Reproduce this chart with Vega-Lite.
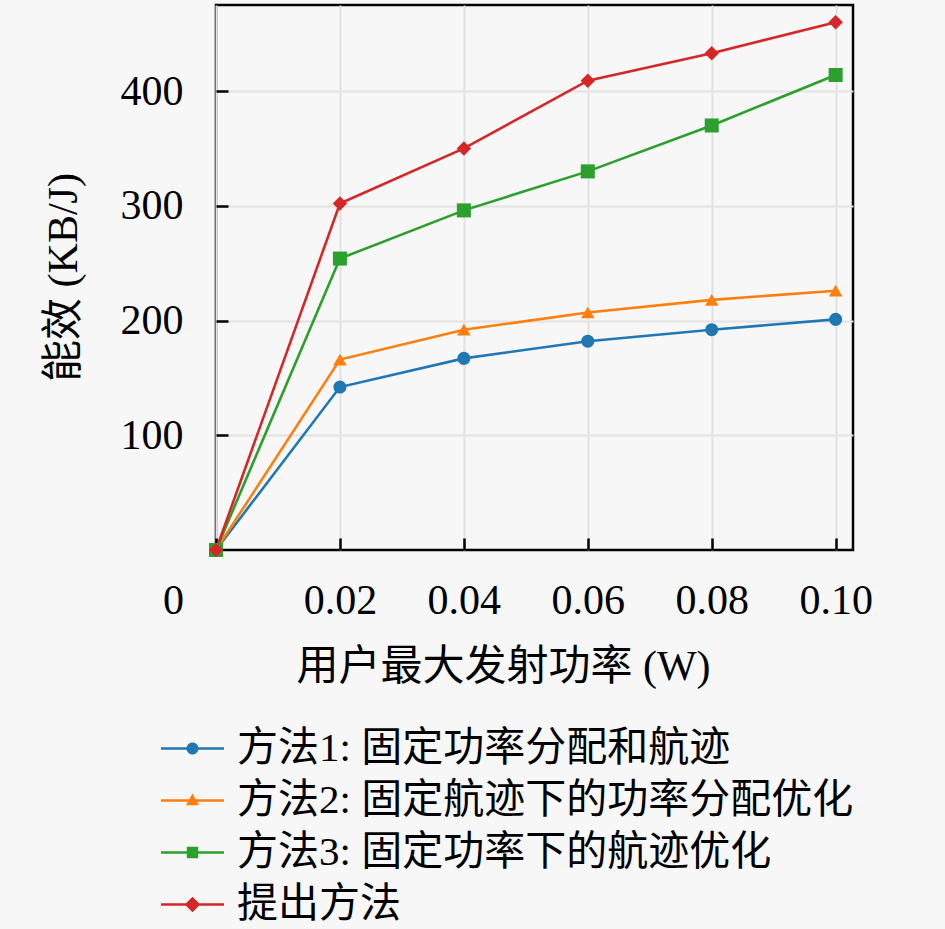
{
  "$schema": "https://vega.github.io/schema/vega-lite/v6.json",
  "autosize": "none",
  "width": 637,
  "height": 545,
  "padding": {"left": 216, "top": 5, "right": 92, "bottom": 379},
  "background": "#f7f7f7",
  "config": {
    "font": "Liberation Serif, Noto Sans CJK SC",
    "view": {"stroke": "#000000", "strokeWidth": 2.5, "fill": "#f7f7f7"},
    "axis": {
      "domain": false,
      "grid": false,
      "tickColor": "#000000",
      "tickWidth": 2.5,
      "tickSize": 12,
      "gridColor": "#e2e2e2",
      "gridWidth": 2,
      "labelFont": "Liberation Serif, Noto Sans CJK SC",
      "labelFontSize": 42,
      "labelColor": "#000000",
      "labelFlush": false,
      "labelOverlap": false,
      "labelBound": false,
      "titleFont": "Liberation Serif, Noto Sans CJK SC",
      "titleFontSize": 42,
      "titleFontWeight": "normal",
      "titleColor": "#000000"
    },
    "legend": {
      "orient": "none",
      "legendX": -44,
      "legendY": 723,
      "padding": 0,
      "title": null,
      "symbolSize": 144,
      "symbolStrokeWidth": 0,
      "symbolOpacity": 1,
      "labelFont": "Liberation Serif, Noto Sans CJK SC",
      "labelFontSize": 41,
      "labelColor": "#000000",
      "labelLimit": 1000,
      "labelOffset": 24,
      "rowPadding": 10
    }
  },
  "data": {
    "values": [
      {"power": 0.0, "efficiency": 0, "method": "方法1: 固定功率分配和航迹"},
      {"power": 0.02, "efficiency": 142, "method": "方法1: 固定功率分配和航迹"},
      {"power": 0.04, "efficiency": 167, "method": "方法1: 固定功率分配和航迹"},
      {"power": 0.06, "efficiency": 182, "method": "方法1: 固定功率分配和航迹"},
      {"power": 0.08, "efficiency": 192, "method": "方法1: 固定功率分配和航迹"},
      {"power": 0.1, "efficiency": 201, "method": "方法1: 固定功率分配和航迹"},
      {"power": 0.0, "efficiency": 0, "method": "方法2: 固定航迹下的功率分配优化"},
      {"power": 0.02, "efficiency": 166, "method": "方法2: 固定航迹下的功率分配优化"},
      {"power": 0.04, "efficiency": 192, "method": "方法2: 固定航迹下的功率分配优化"},
      {"power": 0.06, "efficiency": 207, "method": "方法2: 固定航迹下的功率分配优化"},
      {"power": 0.08, "efficiency": 218, "method": "方法2: 固定航迹下的功率分配优化"},
      {"power": 0.1, "efficiency": 226, "method": "方法2: 固定航迹下的功率分配优化"},
      {"power": 0.0, "efficiency": 0, "method": "方法3: 固定功率下的航迹优化"},
      {"power": 0.02, "efficiency": 254, "method": "方法3: 固定功率下的航迹优化"},
      {"power": 0.04, "efficiency": 296, "method": "方法3: 固定功率下的航迹优化"},
      {"power": 0.06, "efficiency": 330, "method": "方法3: 固定功率下的航迹优化"},
      {"power": 0.08, "efficiency": 370, "method": "方法3: 固定功率下的航迹优化"},
      {"power": 0.1, "efficiency": 414, "method": "方法3: 固定功率下的航迹优化"},
      {"power": 0.0, "efficiency": 0, "method": "提出方法"},
      {"power": 0.02, "efficiency": 302, "method": "提出方法"},
      {"power": 0.04, "efficiency": 350, "method": "提出方法"},
      {"power": 0.06, "efficiency": 409, "method": "提出方法"},
      {"power": 0.08, "efficiency": 433, "method": "提出方法"},
      {"power": 0.1, "efficiency": 460, "method": "提出方法"}
    ]
  },
  "encoding": {
    "x": {
      "field": "power",
      "type": "quantitative",
      "scale": {"domain": [0, 0.1028], "nice": false, "zero": false},
      "axis": null
    },
    "y": {
      "field": "efficiency",
      "type": "quantitative",
      "scale": {"domain": [0, 475], "nice": false},
      "axis": null
    }
  },
  "layer": [
    {
      "mark": {"type": "line", "strokeWidth": 2.6},
      "encoding": {
        "x": {
          "field": "power",
          "type": "quantitative",
          "scale": {"domain": [0, 0.1028], "nice": false, "zero": false},
          "axis": {
            "orient": "bottom",
            "grid": true,
            "ticks": false,
            "labels": false,
            "title": null,
            "values": [0, 0.02, 0.04, 0.06, 0.08, 0.1]
          }
        },
        "y": {
          "field": "efficiency",
          "type": "quantitative",
          "scale": {"domain": [0, 475], "nice": false},
          "axis": {
            "orient": "left",
            "grid": true,
            "ticks": false,
            "labels": false,
            "title": null,
            "values": [100, 200, 300, 400]
          }
        },
        "color": {
          "field": "method",
          "type": "nominal",
          "scale": {
            "domain": ["方法1: 固定功率分配和航迹", "方法2: 固定航迹下的功率分配优化", "方法3: 固定功率下的航迹优化", "提出方法"],
            "range": ["#1f77b4", "#ff7f0e", "#2ca02c", "#d62728"]
          },
          "legend": null
        }
      }
    },
    {
      "mark": {"type": "point", "filled": true, "opacity": 1},
      "encoding": {
        "color": {
          "field": "method",
          "type": "nominal",
          "scale": {
            "domain": ["方法1: 固定功率分配和航迹", "方法2: 固定航迹下的功率分配优化", "方法3: 固定功率下的航迹优化", "提出方法"],
            "range": ["#1f77b4", "#ff7f0e", "#2ca02c", "#d62728"]
          },
          "legend": null
        },
        "shape": {
          "field": "method",
          "type": "nominal",
          "scale": {
            "domain": ["方法1: 固定功率分配和航迹", "方法2: 固定航迹下的功率分配优化", "方法3: 固定功率下的航迹优化", "提出方法"],
            "range": ["circle", "triangle-up", "square", "diamond"]
          },
          "legend": null
        },
        "size": {
          "field": "method",
          "type": "nominal",
          "scale": {
            "domain": ["方法1: 固定功率分配和航迹", "方法2: 固定航迹下的功率分配优化", "方法3: 固定功率下的航迹优化", "提出方法"],
            "range": [170, 210, 180, 360]
          },
          "legend": null
        }
      }
    },
    {
      "mark": {"type": "point", "filled": true, "opacity": 0},
      "encoding": {
        "x": {
          "field": "power",
          "type": "quantitative",
          "title": "用户最大发射功率 (W)",
          "scale": {"domain": [0, 0.1028], "nice": false, "zero": false},
          "axis": {
            "orient": "bottom",
            "offset": -12,
            "values": [0, 0.02, 0.04, 0.06, 0.08, 0.1],
            "labelExpr": "datum.value == 0 ? '0' : format(datum.value, '.2f')",
            "labelPadding": 30,
            "labelOffset": {"condition": {"test": "datum.value == 0", "value": -43}, "value": 0},
            "titleX": 287,
            "titleY": 128,
            "titleBaseline": "middle"
          }
        },
        "y": {
          "field": "efficiency",
          "type": "quantitative",
          "title": "能效 (KB/J)",
          "scale": {"domain": [0, 475], "nice": false},
          "axis": {
            "orient": "left",
            "offset": -12,
            "values": [100, 200, 300, 400],
            "labelPadding": 33,
            "titleX": -165,
            "titleY": 272,
            "titleBaseline": "middle",
            "titleAlign": "center"
          }
        },
        "color": {
          "field": "method",
          "type": "nominal",
          "scale": {
            "domain": ["方法1: 固定功率分配和航迹", "方法2: 固定航迹下的功率分配优化", "方法3: 固定功率下的航迹优化", "提出方法"],
            "range": ["#1f77b4", "#ff7f0e", "#2ca02c", "#d62728"]
          },
          "legend": {}
        },
        "shape": {
          "field": "method",
          "type": "nominal",
          "scale": {
            "domain": ["方法1: 固定功率分配和航迹", "方法2: 固定航迹下的功率分配优化", "方法3: 固定功率下的航迹优化", "提出方法"],
            "range": [
              "M-5.25,-0.2L5.25,-0.2L5.25,0.2L-5.25,0.2ZM1,0A1,1,0,1,1,-1,0A1,1,0,1,1,1,0Z",
              "M-5.25,-0.2L5.25,-0.2L5.25,0.2L-5.25,0.2ZM0,-1.15L1.1,0.8L-1.1,0.8Z",
              "M-5.25,-0.2L5.25,-0.2L5.25,0.2L-5.25,0.2ZM-0.95,-0.95L0.95,-0.95L0.95,0.95L-0.95,0.95Z",
              "M-5.25,-0.2L5.25,-0.2L5.25,0.2L-5.25,0.2ZM0,-1.3L1.3,0L0,1.3L-1.3,0Z"
            ]
          },
          "legend": {}
        }
      }
    }
  ],
  "resolve": {
    "scale": {"color": "independent", "shape": "independent", "size": "independent"},
    "axis": {"x": "independent", "y": "independent"}
  }
}
